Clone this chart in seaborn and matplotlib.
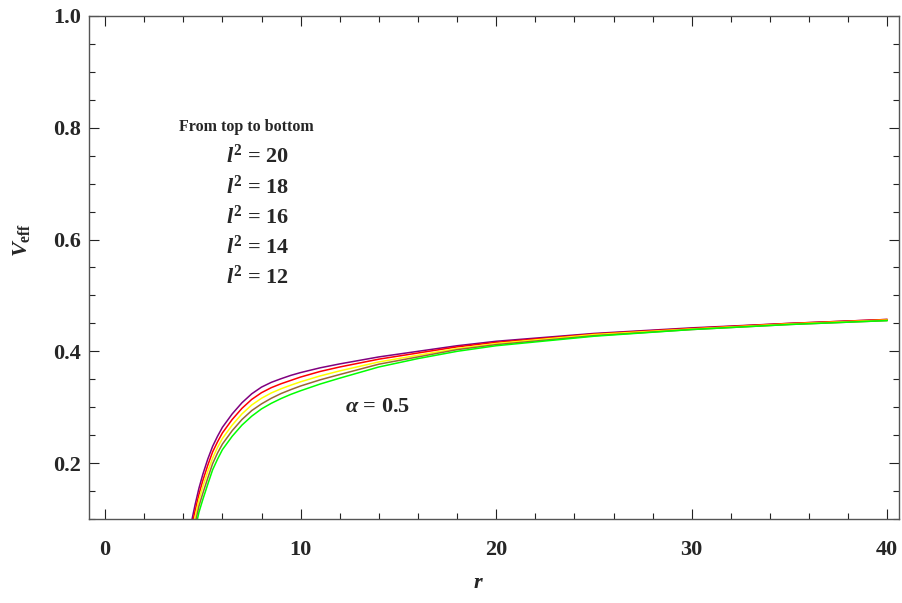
import pandas as pd
import matplotlib
matplotlib.use("Agg")
import matplotlib.pyplot as plt
from matplotlib.ticker import MultipleLocator
import seaborn as sns

# Effective potential samples V_eff(r) for alpha = 0.5, one list per l^2
r_vals = [4.45, 4.6, 4.8, 5.0, 5.25, 5.5, 5.75, 6.0, 6.5, 7.0, 7.5, 8.0, 8.5,
          9.0, 9.5, 10.0, 11.0, 12.0, 14.0, 16.0, 18.0, 20.0, 25.0, 30.0, 35.0, 40.0]
v_l20 = [0.100, 0.125, 0.155, 0.180, 0.207, 0.230, 0.248, 0.264, 0.288, 0.308, 0.324, 0.336, 0.3445,
         0.351, 0.357, 0.362, 0.3705, 0.3775, 0.390, 0.400, 0.410, 0.418, 0.432, 0.442, 0.450, 0.457]
v_l18 = [0.090, 0.114, 0.144, 0.169, 0.196, 0.220, 0.238, 0.254, 0.278, 0.298, 0.314, 0.326, 0.335,
         0.342, 0.348, 0.354, 0.364, 0.372, 0.386, 0.397, 0.408, 0.416, 0.431, 0.441, 0.450, 0.457]
v_l16 = [0.080, 0.103, 0.134, 0.158, 0.185, 0.209, 0.228, 0.244, 0.268, 0.288, 0.304, 0.316, 0.3255,
         0.333, 0.3395, 0.3455, 0.356, 0.365, 0.381, 0.393, 0.405, 0.414, 0.430, 0.440, 0.449, 0.456]
v_l14 = [0.070, 0.091, 0.123, 0.146, 0.173, 0.199, 0.218, 0.234, 0.258, 0.278, 0.294, 0.306, 0.316,
         0.3245, 0.3315, 0.338, 0.349, 0.3585, 0.377, 0.390, 0.403, 0.412, 0.428, 0.439, 0.448, 0.455]
v_l12 = [0.060, 0.080, 0.112, 0.135, 0.162, 0.188, 0.207, 0.224, 0.248, 0.268, 0.284, 0.297, 0.307,
         0.3155, 0.323, 0.3295, 0.3415, 0.352, 0.372, 0.387, 0.400, 0.410, 0.427, 0.439, 0.448, 0.455]

l2_labels = ["20", "18", "16", "14", "12"]
colors = ["#800080", "#ff0000", "#ffff00", "#996633", "#00ff00"]

series = [v_l20, v_l18, v_l16, v_l14, v_l12]
frames = []
for lab, vals in zip(l2_labels, series):
    frames.append(pd.DataFrame({"r": r_vals, "V": vals, "l2": lab}))
df = pd.concat(frames, ignore_index=True)

sns.set_style("ticks")
plt.rcParams["font.family"] = ["Liberation Serif", "DejaVu Serif"]
plt.rcParams["font.weight"] = "bold"
plt.rcParams["mathtext.fontset"] = "custom"
plt.rcParams["mathtext.rm"] = "Liberation Serif:bold"
plt.rcParams["mathtext.it"] = "Liberation Serif:italic:bold"
plt.rcParams["mathtext.bf"] = "Liberation Serif:bold"

fig = plt.figure(figsize=(9.02, 6.03), dpi=100)
ax = fig.add_axes([0.0987, 0.1393, 0.898, 0.8342])

sns.lineplot(data=df, x="r", y="V", hue="l2", palette=dict(zip(l2_labels, colors)),
             hue_order=l2_labels, linewidth=1.1, legend=False, ax=ax, sort=True)

ax.set_xlim(-0.82, 40.6)
ax.set_ylim(0.1, 1.0)
ax.xaxis.set_major_locator(MultipleLocator(10))
ax.xaxis.set_minor_locator(MultipleLocator(2))
ax.yaxis.set_minor_locator(MultipleLocator(0.05))
ax.set_yticks([0.2, 0.4, 0.6, 0.8, 1.0])
ax.set_yticklabels(["0.2", "0.4", "0.6", "0.8", "1.0"])
ax.set_xlabel("")
ax.set_ylabel("")

spine_col = "#555555"
for s in ax.spines.values():
    s.set_color(spine_col)
    s.set_linewidth(1.0)
ax.tick_params(which="both", direction="in", top=True, right=True, color="#222222", width=0.8)
ax.tick_params(which="major", length=7, labelsize=16)
ax.tick_params(axis="x", which="major", pad=15)
ax.tick_params(axis="y", which="major", pad=6)
ax.tick_params(which="minor", length=4)
for t in ax.get_xticklabels() + ax.get_yticklabels():
    t.set_fontweight("bold")

fig.text(478 / 902, 1 - 583 / 603, r"$r$", fontsize=16, ha="center", va="center")
fig.text(22 / 902, 1 - 240 / 603, r"$V_{\mathrm{eff}}$", fontsize=16, ha="center", va="center",
         rotation=90)

ax.text(246, 603 - 127, "From top to bottom", transform=None, fontsize=11.5, fontweight="bold",
        ha="center", va="center")
ys = [156, 187, 217, 247, 277]
for lab, y in zip(l2_labels, ys):
    ax.text(258, 603 - y, r"$l^2$ = " + lab, transform=None, fontsize=16, fontweight="bold",
            ha="center", va="center")
ax.text(378, 603 - 407, r"$\alpha$ = 0.5", transform=None, fontsize=16, fontweight="bold",
        ha="center", va="center")

fig.savefig("out.png", dpi=100)
